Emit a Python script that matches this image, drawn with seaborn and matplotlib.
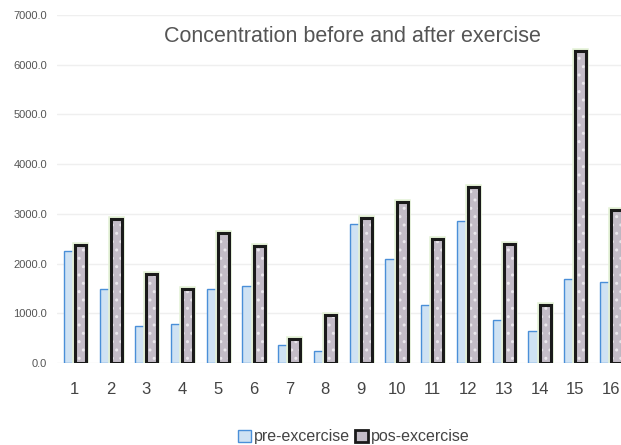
import numpy as np
import pandas as pd
import seaborn as sns
import matplotlib
matplotlib.use("Agg")
import matplotlib.pyplot as plt
from matplotlib.patches import Patch
import matplotlib.patheffects as pe

samples = [str(i) for i in range(1, 17)]
pre_values = [2260, 1480, 740, 780, 1480, 1540, 360, 250, 2800, 2100, 1170, 2850, 870, 640, 1690, 1630]
post_values = [2380, 2900, 1800, 1490, 2610, 2350, 480, 970, 2920, 3240, 2500, 3550, 2400, 1160, 6280, 3070]
series_names = ["pre-excercise", "pos-excercise"]
yticks = [0, 1000, 2000, 3000, 4000, 5000, 6000, 7000]
title = "Concentration before and after exercise"

df = pd.DataFrame({
    "sample": samples * 2,
    "value": pre_values + post_values,
    "phase": [series_names[0]] * len(samples) + [series_names[1]] * len(samples),
})

sns.set_theme(style="white")
plt.rcParams["font.family"] = ["Liberation Sans", "DejaVu Sans"]

fig = plt.figure(figsize=(6.21, 4.45), dpi=100)
ax = fig.add_axes([57 / 621, 1 - 363 / 445, 1 - 57 / 621, (363 - 15) / 445])

pre_face, pre_edge = "#cfe2f3", "#4a8fd8"
post_face, post_edge = "#c3bcc7", "#1a1a1a"

sns.barplot(data=df, x="sample", y="value", hue="phase", order=samples,
            hue_order=series_names, width=0.62, ax=ax, legend=False,
            palette=[pre_face, post_face], saturation=1)

for p in ax.containers[0]:
    p.set_facecolor(pre_face)
    p.set_edgecolor(pre_edge)
    p.set_linewidth(1.0)
for p in ax.containers[1]:
    p.set_facecolor(post_face)
    p.set_edgecolor(post_edge)
    p.set_linewidth(2.2)
    p.set_hatch("..")
    p._hatch_color = (0.92, 0.91, 0.93, 1.0)
    p.set_path_effects([pe.Stroke(linewidth=4, foreground="#e4f1d6"), pe.Normal()])

ax.set_ylim(0, 7000)
ax.set_xlim(-0.5, 15.28)
ax.set_yticks(yticks)
ax.set_yticklabels([f"{v:.1f}" for v in yticks], fontsize=8, color="#555555")
ax.tick_params(axis="x", labelsize=12, colors="#444444", length=0, pad=14)
ax.tick_params(axis="y", length=0, pad=7)
ax.yaxis.grid(True, color="#efefef", linewidth=1)
ax.set_axisbelow(True)
for s in ax.spines.values():
    s.set_visible(False)
ax.set_xlabel("")
ax.set_ylabel("")

ax.text((352 - 57) / 564, 0.937, title, transform=ax.transAxes, ha="center", va="center",
        fontsize=15.5, color="#555555")

handles = [Patch(facecolor=pre_face, edgecolor=pre_edge, linewidth=1.0, label=series_names[0]),
           Patch(facecolor=post_face, edgecolor=post_edge, linewidth=2.0, label=series_names[1])]
fig.legend(handles=handles, loc="center", bbox_to_anchor=(354 / 621, 1 - 437 / 445), ncol=2,
           frameon=False, fontsize=11.5, handlelength=0.8, handleheight=0.8,
           handletextpad=0.2, columnspacing=0.3, labelcolor="#444444")

fig.savefig("out.png", dpi=100)
